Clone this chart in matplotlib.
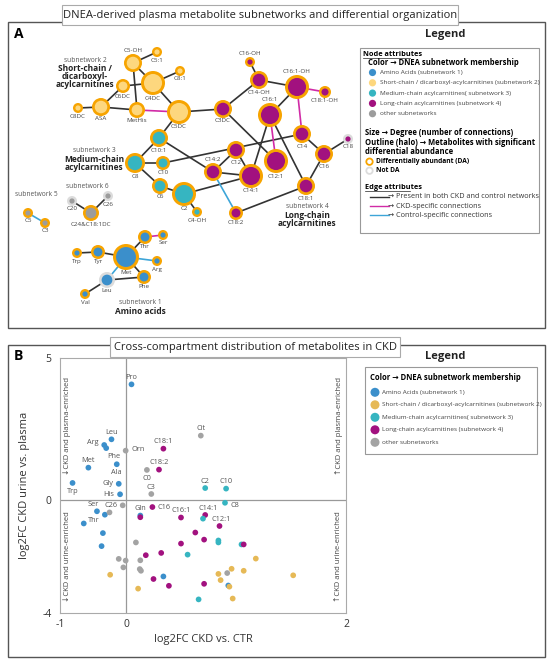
import numpy as np
import matplotlib
matplotlib.use("Agg")
import matplotlib.pyplot as plt
from matplotlib.patches import Rectangle, Circle
from matplotlib.scale import FuncScale

plt.rcParams['font.family'] = ['Open Sans', 'DejaVu Sans']

# ---------------- Panel A: network data ----------------
node_names = ["C5-OH", "C5:1", "C8:1", "C4DC", "C6DC", "C8DC", "ASA", "MetHis", "C5DC",
              "C10:1", "C8", "C10", "C6", "C2", "C4-OH",
              "C16-OH", "C14-OH", "C16:1-OH", "C18:1-OH", "C3DC", "C16:1", "C14", "C18",
              "C12", "C16", "C12:1", "C14:2", "C14:1", "C18:1", "C18:2",
              "C20", "C26", "C24&C18:1DC", "C5", "C3",
              "Thr", "Ser", "Trp", "Tyr", "Met", "Arg", "Leu", "Phe", "Val"]
node_group = [2, 2, 2, 2, 2, 2, 2, 2, 2,
              3, 3, 3, 3, 3, 3,
              4, 4, 4, 4, 4, 4, 4, 4, 4, 4, 4, 4, 4, 4, 4,
              0, 0, 0, 0, 0,
              1, 1, 1, 1, 1, 1, 1, 1, 1]
node_da = [1, 1, 1, 1, 1, 1, 1, 1, 1,
           1, 1, 1, 1, 1, 1,
           1, 1, 1, 1, 1, 1, 1, 0, 1, 1, 1, 1, 1, 1, 1,
           0, 0, 1, 1, 1,
           1, 1, 1, 1, 1, 1, 0, 1, 1]
# layout (figure pixel coordinates of the original drawing)
node_x = [133, 157, 180, 153, 123, 78, 101, 137, 179,
          159, 135, 163, 160, 184, 197,
          250, 259, 297, 325, 223, 270, 302, 348, 236, 324, 276, 213, 251, 306, 236,
          72, 108, 91, 28, 45,
          145, 163, 77, 98, 126, 157, 107, 144, 85]
node_y = [63, 52, 71, 83, 86, 108, 107, 110, 112,
          138, 163, 163, 186, 194, 212,
          62, 80, 87, 92, 109, 115, 134, 139, 150, 154, 161, 172, 176, 186, 213,
          201, 196, 213, 213, 223,
          237, 235, 253, 252, 257, 261, 280, 277, 294]
node_degree_radius = [9, 5, 5, 12, 7, 5, 9, 8, 12,
                      9, 10, 7, 8, 12, 5,
                      5, 9, 12, 6, 9, 12, 9, 5, 9, 9, 12, 9, 12, 9, 7,
                      5, 5, 8, 5, 5,
                      7, 5, 5, 7, 13, 5, 8, 7, 5]

edges_both = [("C5-OH", "C5:1"), ("C5-OH", "MetHis"), ("C5-OH", "C4DC"), ("C6DC", "C4DC"),
              ("C4DC", "C8:1"), ("C4DC", "C5DC"), ("C6DC", "ASA"), ("C8DC", "ASA"),
              ("ASA", "MetHis"), ("C5DC", "C3DC"), ("C5DC", "C10:1"), ("C10:1", "C8"),
              ("C10:1", "C14:2"), ("C8", "C10"), ("C8", "C6"), ("C6", "C2"), ("C2", "C4-OH"),
              ("C2", "C14:1"), ("C10", "C14"), ("C12", "C14:2"), ("C12", "C14:1"),
              ("C14:2", "C14:1"), ("C14:1", "C16:1"), ("C3DC", "C12:1"), ("C3DC", "C14-OH"),
              ("C14-OH", "C16-OH"), ("C14-OH", "C16:1-OH"), ("C16:1-OH", "C16:1"),
              ("C16:1", "C18:1"), ("C14", "C16"), ("C16", "C18"), ("C16", "C18:1"),
              ("C18:2", "C18:1"), ("C20", "C24&C18:1DC"), ("C26", "C24&C18:1DC"),
              ("Thr", "Met"), ("Tyr", "Met"), ("Trp", "Tyr"), ("Met", "Phe"),
              ("Leu", "Phe"), ("Leu", "Val")]
edges_ckd = [("MetHis", "C5DC"), ("C16:1", "C12:1"), ("C16:1-OH", "C14"),
             ("C16:1-OH", "C18:1-OH"), ("Thr", "Ser")]
edges_ctr = [("C14:2", "C18:2"), ("C5", "C3"), ("Met", "Arg"), ("Met", "Leu")]

labels_above = {"C5-OH", "C16-OH", "C16:1-OH", "C16:1", "C14:2"}

# ---------------- Panel B: scatter data ----------------
pt_label = ["Pro", "Leu", "Arg", "Phe", "Orn", "C18:1", "Met", "Ala", "C18:2", "C0", "Cit",
            "Trp", "Gly", "His", "C3", "C2", "C10", "C8", "C16", "C14:1", "C16:1", "C12:1",
            "Ser", "C26", "Thr", "Gln",
            "", "", "", "", "", "", "", "", "", "", "", "", "", "", "", "", "", "", "", "",
            "", "", "", "", "", "", "", "", "", "", "", "", "", "", "", "", "", "", "", ""]
pt_x = [0.05, -0.22, -0.33, -0.30, -0.005, 0.34, -0.57, -0.14, 0.30, 0.19, 0.68,
        -0.81, -0.11, -0.09, 0.23, 0.72, 0.91, 0.90, 0.24, 0.72, 0.50, 0.85,
        -0.44, -0.05, -0.32, 0.13,
        -0.25, -0.64, 0.70, 0.13, -0.35, -0.37, 0.63, 0.71, 0.84, 0.84, 0.50, 0.09,
        1.05, 1.07, 0.32, 0.18, 0.56, -0.11, -0.005, 0.13, 1.18, -0.04, 0.125, 0.136,
        0.96, 1.07, 0.92, 0.84, -0.24, 1.52, 0.34, 0.25, 0.86, 0.71, 0.39, 0.93, 0.94,
        0.11, 0.66, 0.97]
pt_y = [4.07, 2.13, 1.93, 1.82, 1.73, 1.80, 1.13, 1.25, 1.06, 1.05, 2.26,
        0.59, 0.56, 0.19, 0.20, 0.41, 0.39, -0.11, -0.26, -0.54, -0.63, -0.93,
        -0.41, -0.20, -0.53, -0.56,
        -0.45, -0.84, -0.67, -0.62, -1.18, -1.64, -1.16, -1.41, -1.44, -1.51, -1.55, -1.51,
        -1.58, -1.58, -1.88, -1.96, -1.94, -2.09, -2.15, -2.14, -2.08, -2.39, -2.45, -2.51,
        -2.44, -2.51, -2.59, -2.62, -2.65, -2.67, -2.71, -2.80, -2.84, -2.97, -3.04, -3.03,
        -3.07, -3.14, -3.52, -3.49]
pt_group = [1, 1, 1, 1, 0, 4, 1, 1, 4, 0, 0,
            1, 1, 1, 0, 3, 3, 3, 4, 4, 4, 4,
            1, 0, 1, 1,
            0, 1, 3, 4, 1, 1, 4, 4, 3, 3, 4, 0,
            3, 4, 4, 4, 3, 0, 0, 0, 2, 0, 0, 0,
            2, 2, 0, 2, 2, 2, 1, 4, 2, 4, 4, 1,
            2, 2, 3, 2]

x_ticks = [-1, 0, 2]
y_ticks = [-4, 0, 5]

legend_groups = ["Amino Acids (subnetwork 1)",
                 "Short-chain / dicarboxyl-acylcarnitines (subnetwork 2)",
                 "Medium-chain acylcarnitines( subnetwork 3)",
                 "Long-chain acylcarnitines (subnetwork 4)",
                 "other subnetworks"]

# ---------------- styles ----------------
net_col = {1: "#3B8FCB", 2: "#FDD77E", 3: "#36B5C1", 4: "#A2117F", 0: "#9C9C9C"}
sc_col = {1: "#3B8FCB", 2: "#E6B956", 3: "#36B5C1", 4: "#A2117F", 0: "#A3A3A3"}
halo_da = "#F7A400"
halo_no = "#DCDCDC"
edge_col = {"both": "#333333", "ckd": "#D12BA6", "ctr": "#3DA5D8"}

fig = plt.figure(figsize=(5.5, 6.64), dpi=100)
bg = fig.add_axes([0, 0, 1, 1])
bg.set_xlim(0, 550)
bg.set_ylim(664, 0)
bg.axis("off")

# panel frames + titles
bg.add_patch(Rectangle((8, 22), 537, 306, fill=False, ec="#555555", lw=1.0))
bg.add_patch(Rectangle((62, 5), 396, 20, fc="white", ec="#AAAAAA", lw=0.8, zorder=3))
bg.text(260, 15.5, "DNEA-derived plasma metabolite subnetworks and differential organization",
        ha="center", va="center", fontsize=8, color="#222222", zorder=4)
bg.text(14, 34, "A", fontsize=10, fontweight="bold", ha="left", va="center")

bg.add_patch(Rectangle((8, 345), 537, 312, fill=False, ec="#555555", lw=1.0))
bg.add_patch(Rectangle((110, 337), 290, 20, fc="white", ec="#AAAAAA", lw=0.8, zorder=3))
bg.text(255, 347.5, "Cross-compartment distribution of metabolites in CKD",
        ha="center", va="center", fontsize=8, color="#222222", zorder=4)
bg.text(14, 356, "B", fontsize=10, fontweight="bold", ha="left", va="center")

# ---- network ----
pos = {n: (x, y) for n, x, y in zip(node_names, node_x, node_y)}
for kind, elist in (("both", edges_both), ("ckd", edges_ckd), ("ctr", edges_ctr)):
    for a, b in elist:
        (x1, y1), (x2, y2) = pos[a], pos[b]
        bg.plot([x1, x2], [y1, y2], color=edge_col[kind], lw=1.2, zorder=2)

for n, x, y, r, g, da in zip(node_names, node_x, node_y, node_degree_radius, node_group, node_da):
    halo = 2.0 + 0.08 * r
    bg.add_patch(Circle((x, y), r, fc=halo_da if da else halo_no, ec="none", zorder=5))
    bg.add_patch(Circle((x, y), r - halo, fc=net_col[g], ec="none", zorder=6))
    if n in labels_above:
        bg.text(x, y - r - 1, n, ha="center", va="bottom", fontsize=4.5, color="#444444", zorder=7)
    else:
        bg.text(x, y + r + 0.5, n, ha="center", va="top", fontsize=4.5, color="#444444", zorder=7)

def sublabel(x, y, sub, lines):
    bg.text(x, y, sub, ha="center", va="center", fontsize=4.8, color="#555555")
    for i, l in enumerate(lines):
        bg.text(x, y + 8.5 + 8 * i, l, ha="center", va="center", fontsize=6,
                fontweight="bold", color="#222222")

sublabel(85, 60, "subnetwork 2", ["Short-chain /", "dicarboxyl-", "acylcarnitines"])
sublabel(94, 151, "subnetwork 3", ["Medium-chain", "acylcarnitines"])
sublabel(307, 207, "subnetwork 4", ["Long-chain", "acylcarnitines"])
sublabel(140, 303, "subnetwork 1", ["Amino acids"])
bg.text(87, 187, "subnetwork 6", ha="center", va="center", fontsize=4.8, color="#555555")
bg.text(36, 195, "subnetwork 5", ha="center", va="center", fontsize=4.8, color="#555555")

# ---- legend A ----
bg.text(445, 35, "Legend", ha="center", va="center", fontsize=8, fontweight="bold", color="#222222")
bg.add_patch(Rectangle((360, 48), 179, 185, fill=False, ec="#999999", lw=0.8))
bg.text(363, 54, "Node attributes", ha="left", va="center", fontsize=5.3, fontweight="bold")
bg.plot([363, 410], [57.5, 57.5], color="#222222", lw=0.5)
bg.text(368, 62.5, "Color \u2192 DNEA subnetwork membership", ha="left", va="center",
        fontsize=5.5, fontweight="bold")
for i, (lab, g) in enumerate(zip(legend_groups, [1, 2, 3, 4, 0])):
    yy = 72.5 + 10.3 * i
    bg.add_patch(Circle((372.5, yy), 3.6, fc=net_col[g], ec="none"))
    bg.text(380, yy, lab, ha="left", va="center", fontsize=4.6, color="#444444")
bg.text(365, 132.5, "Size \u2192 Degree (number of connections)", ha="left", va="center",
        fontsize=5.5, fontweight="bold")
bg.text(365, 142.5, "Outline (halo) \u2192 Metabolites with significant", ha="left", va="center",
        fontsize=5.5, fontweight="bold")
bg.text(365, 152, "differential abundance", ha="left", va="center", fontsize=5.5, fontweight="bold")
bg.add_patch(Circle((369.5, 161.7), 3.2, fc="white", ec=halo_da, lw=1.3))
bg.text(376, 161.7, "Differentially abundant (DA)", ha="left", va="center", fontsize=4.8,
        fontweight="bold")
bg.add_patch(Circle((369.5, 170.7), 3.2, fc="white", ec=halo_no, lw=1.3))
bg.text(376, 170.7, "Not DA", ha="left", va="center", fontsize=4.8, fontweight="bold")
bg.text(365, 187.5, "Edge attributes", ha="left", va="center", fontsize=5.3, fontweight="bold")
bg.plot([365, 410], [191, 191], color="#222222", lw=0.5)
edge_leg = [("both", "Present in both CKD and control networks"),
            ("ckd", "CKD-specific connections"),
            ("ctr", "Control-specific connections")]
for i, (k, lab) in enumerate(edge_leg):
    yy = 196.7 + 9.3 * i
    bg.plot([370, 389], [yy, yy], color=edge_col[k], lw=1.0)
    bg.text(388, yy, "\u2192 " + lab, ha="left", va="center", fontsize=5.2, color="#333333")

# ---- legend B ----
bg.text(445, 357, "Legend", ha="center", va="center", fontsize=8, fontweight="bold", color="#222222")
bg.add_patch(Rectangle((365, 367), 172, 87, fill=False, ec="#999999", lw=0.8))
bg.text(370, 377, "Color \u2192 DNEA subnetwork membership", ha="left", va="center",
        fontsize=5.5, fontweight="bold")
for i, (lab, g) in enumerate(zip(legend_groups, [1, 2, 3, 4, 0])):
    yy = 392.3 + 12.5 * i
    bg.add_patch(Circle((375, yy), 4.5, fc=sc_col[g], ec="none"))
    bg.text(382, yy, lab, ha="left", va="center", fontsize=4.6, color="#444444")

# ---- scatter ----
def fwd(x):
    x = np.asarray(x, dtype=float)
    return np.where(x < 0, 0.6 * x, x)

def inv(x):
    x = np.asarray(x, dtype=float)
    return np.where(x < 0, x / 0.6, x)

ax = fig.add_axes([60 / 550, (664 - 613) / 664, 286 / 550, 255 / 664])
ax.set_xscale(FuncScale(ax, (fwd, inv)))
ax.set_xlim(-1, 2)
ax.set_ylim(-4, 5)
for s in ax.spines.values():
    s.set_color("#AAAAAA")
    s.set_linewidth(0.8)
ax.axhline(0, color="#999999", lw=0.9, zorder=1)
ax.axvline(0, color="#999999", lw=0.9, zorder=1)
ax.set_xticks(x_ticks)
ax.set_xticklabels([str(t) for t in x_ticks])
ax.set_yticks(y_ticks)
ax.set_yticklabels([str(t) for t in y_ticks])
ax.tick_params(length=0, labelsize=7.5, colors="#333333", pad=4)
ax.tick_params(axis="y", pad=6)
ax.set_xlabel("log2FC CKD vs. CTR", fontsize=8, color="#333333", labelpad=3)
ax.set_ylabel("log2FC CKD urine vs. plasma", fontsize=8, color="#333333", labelpad=9)
ax.minorticks_off()

ax.scatter(pt_x, pt_y, s=17, c=[sc_col[g] for g in pt_group], zorder=3, linewidths=0)

lab_off = {"Pro": (0, 5, "center"), "Leu": (0, 5, "center"), "Arg": (-4, 2, "right"),
           "Phe": (1, -6, "left"), "Orn": (4, 1, "left"), "C18:1": (0, 5, "center"),
           "Met": (0, 5, "center"), "Ala": (0, -6, "center"), "C18:2": (0, 5, "center"),
           "C0": (0, -6, "center"), "Cit": (0, 5, "center"), "Trp": (0, -6, "center"),
           "Gly": (-4, 0, "right"), "His": (-4, 0, "right"), "C3": (0, 5, "center"),
           "C2": (0, 5, "center"), "C10": (0, 5, "center"), "C8": (4, -2, "left"),
           "C16": (4, 0, "left"), "C14:1": (2, 5, "center"), "C16:1": (0, 5, "center"),
           "C12:1": (1, 5, "center"), "Ser": (-3, 5, "center"), "C26": (-4, 0, "right"),
           "Thr": (-4, -4, "right"), "Gln": (0, 5, "center")}
for lab, x, y in zip(pt_label, pt_x, pt_y):
    if lab:
        dx, dy, ha = lab_off[lab]
        ax.annotate(lab, (x, y), xytext=(dx, dy), textcoords="offset points", ha=ha,
                    va="center", fontsize=5.3, color="#555555", zorder=4)

ax.text(0.025, 0.735, "\u2193CKD and plasma-enriched", transform=ax.transAxes, rotation=90,
        ha="center", va="center", fontsize=5.5, color="#444444")
ax.text(0.025, 0.22, "\u2193CKD and urine-enriched", transform=ax.transAxes, rotation=90,
        ha="center", va="center", fontsize=5.5, color="#444444")
ax.text(0.975, 0.735, "\u2191CKD and plasma-enriched", transform=ax.transAxes, rotation=90,
        ha="center", va="center", fontsize=5.5, color="#444444")
ax.text(0.975, 0.22, "\u2191CKD and urine-enriched", transform=ax.transAxes, rotation=90,
        ha="center", va="center", fontsize=5.5, color="#444444")

fig.savefig("out.png", dpi=100)
